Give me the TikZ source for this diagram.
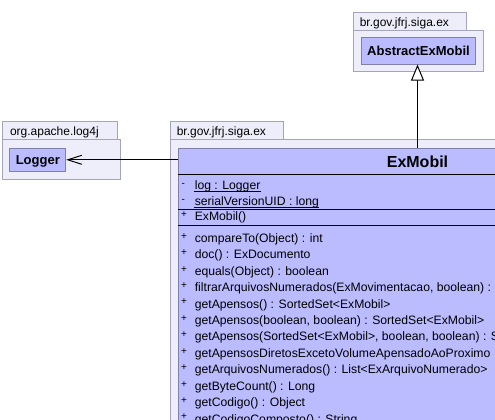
\documentclass[tikz,border=0pt]{standalone}
\usepackage{fontspec}
\setmainfont{Liberation Sans}
\usetikzlibrary{arrows.meta}
\definecolor{pkgfill}{RGB}{238,238,250}
\definecolor{pkgline}{RGB}{165,165,185}
\definecolor{clsfill}{RGB}{187,187,255}
\definecolor{clsline}{RGB}{128,128,170}
\begin{document}
\begin{tikzpicture}[x=1pt,y=-1pt,line width=1pt,
  pkg/.style={draw=pkgline,fill=pkgfill},
  pkgname/.style={anchor=base west,inner sep=0pt,font=\fontsize{12}{14}\selectfont},
  cls/.style={draw=clsline,fill=clsfill,inner sep=0pt,text depth=0pt},
  clsname/.style={inner sep=0pt,text height=9.3pt,text depth=0pt,font=\fontsize{13}{15}\selectfont\bfseries},
  member/.style={anchor=base west,inner sep=0pt,font=\fontsize{12.2}{14}\selectfont},
  vis/.style={anchor=base,inner sep=0pt,font=\fontsize{10}{12}\selectfont},
  gen/.style={-{Triangle[open,length=16pt,width=13pt,fill=white]}},
  dep/.style={-{Straight Barb[length=14pt,width=9pt]}}]
\clip (0,0) rectangle (495,420);
\fill[white] (0,0) rectangle (495,420);
 %% packages
\draw[pkg] (353.3,12.3) rectangle (466,30.3); \draw[pkg] (353.3,30.3) rectangle (483.3,71.3);
\node[pkgname] (pkgtop) at (359.3,27) {br.gov.jfrj.siga.ex};
\draw[pkg] (2.3,121.7) rectangle (117.7,139.3); \draw[pkg] (2.3,139.3) rectangle (120.7,179.3);
\node[pkgname] (pkglog) at (9.5,135.8) {org.apache.log4j};
\draw[pkg] (170.3,121.7) rectangle (283.3,139.3); \draw[pkg] (170.3,139.3) rectangle (520,450);
\node[pkgname] (pkgmid) at (176.3,135.8) {br.gov.jfrj.siga.ex};
 %% classes
\node[cls,minimum width=113.6pt,minimum height=26.7pt] (abstract) at (418.5,50.7) {};
\node[clsname] (abstractname) at (abstract.center) {AbstractExMobil};
\node[cls,minimum width=55.7pt,minimum height=23pt] (logger) at (37.8,159.8) {};
\node[clsname] (loggername) at (logger.center) {Logger};
\node[cls,minimum width=478.4pt,minimum height=300pt] (exmobil) at (417.5,298.3) {};
\node[inner sep=0pt,text height=11.6pt,text depth=0pt,font=\fontsize{16}{18}\selectfont\bfseries] (title) at (417.5,161.9) {ExMobil};
\draw (exmobil.west |- 0,174.5) -- (exmobil.east |- 0,174.5);
\draw (exmobil.west |- 0,209.7) -- (exmobil.east |- 0,209.7);
\draw (exmobil.west |- 0,225.8) -- (exmobil.east |- 0,225.8);
 %% attributes
\node[vis] (v1) at (183.3,186.2) {-}; \node[member] (log) at (194.3,189.5) {log : Logger};
\node[vis] (v2) at (183.3,202.2) {-}; \node[member] (uid) at (194.3,205.5) {serialVersionUID : long};
\draw ([yshift=-2pt]log.base west) -- ([yshift=-2pt]log.base east);
\draw ([yshift=-2.3pt]uid.base west) -- ([yshift=-2.3pt]uid.base east);
 %% constructor
\node[vis] (v3) at (184,217.6) {+}; \node[member] (ctor) at (194.3,220.8) {ExMobil()};
 %% methods
\node[vis] (v4) at (184,239.1) {+}; \node[member] (m1) at (194.3,242.3) {compareTo(Object) : int};
\node[vis] (v5) at (184,255.5) {+}; \node[member] (m2) at (194.3,258.7) {doc() : ExDocumento};
\node[vis] (v6) at (184,272.0) {+}; \node[member] (m3) at (194.3,275.2) {equals(Object) : boolean};
\node[vis] (v7) at (184,288.4) {+}; \node[member] (m4) at (194.3,291.6) {filtrarArquivosNumerados(ExMovimentacao, boolean) :};
\node[vis] (v8) at (184,304.9) {+}; \node[member] (m5) at (194.3,308.1) {getApensos() : SortedSet<ExMobil>};
\node[vis] (v9) at (184,321.3) {+}; \node[member] (m6) at (194.3,324.5) {getApensos(boolean, boolean) : SortedSet<ExMobil>};
\node[vis] (v10) at (184,337.7) {+}; \node[member] (m7) at (194.3,340.9) {getApensos(SortedSet<ExMobil>, boolean, boolean) : S};
\node[vis] (v11) at (184,354.2) {+}; \node[member] (m8) at (194.3,357.4) {getApensosDiretosExcetoVolumeApensadoAoProximo};
\node[vis] (v12) at (184,370.6) {+}; \node[member] (m9) at (194.3,373.8) {getArquivosNumerados() : List<ExArquivoNumerado>};
\node[vis] (v13) at (184,387.1) {+}; \node[member] (m10) at (194.3,390.3) {getByteCount() : Long};
\node[vis] (v14) at (184,403.5) {+}; \node[member] (m11) at (194.3,406.7) {getCodigo() : Object};
\node[vis] (v15) at (184,419.9) {+}; \node[member] (m12) at (194.3,423.1) {getCodigoComposto() : String};
 %% relations
\draw[gen] (exmobil.north) -- (exmobil.north |- abstract.south);
\draw[dep] (exmobil.west |- loggername.center) -- (logger.east);
\end{tikzpicture}
\end{document}
